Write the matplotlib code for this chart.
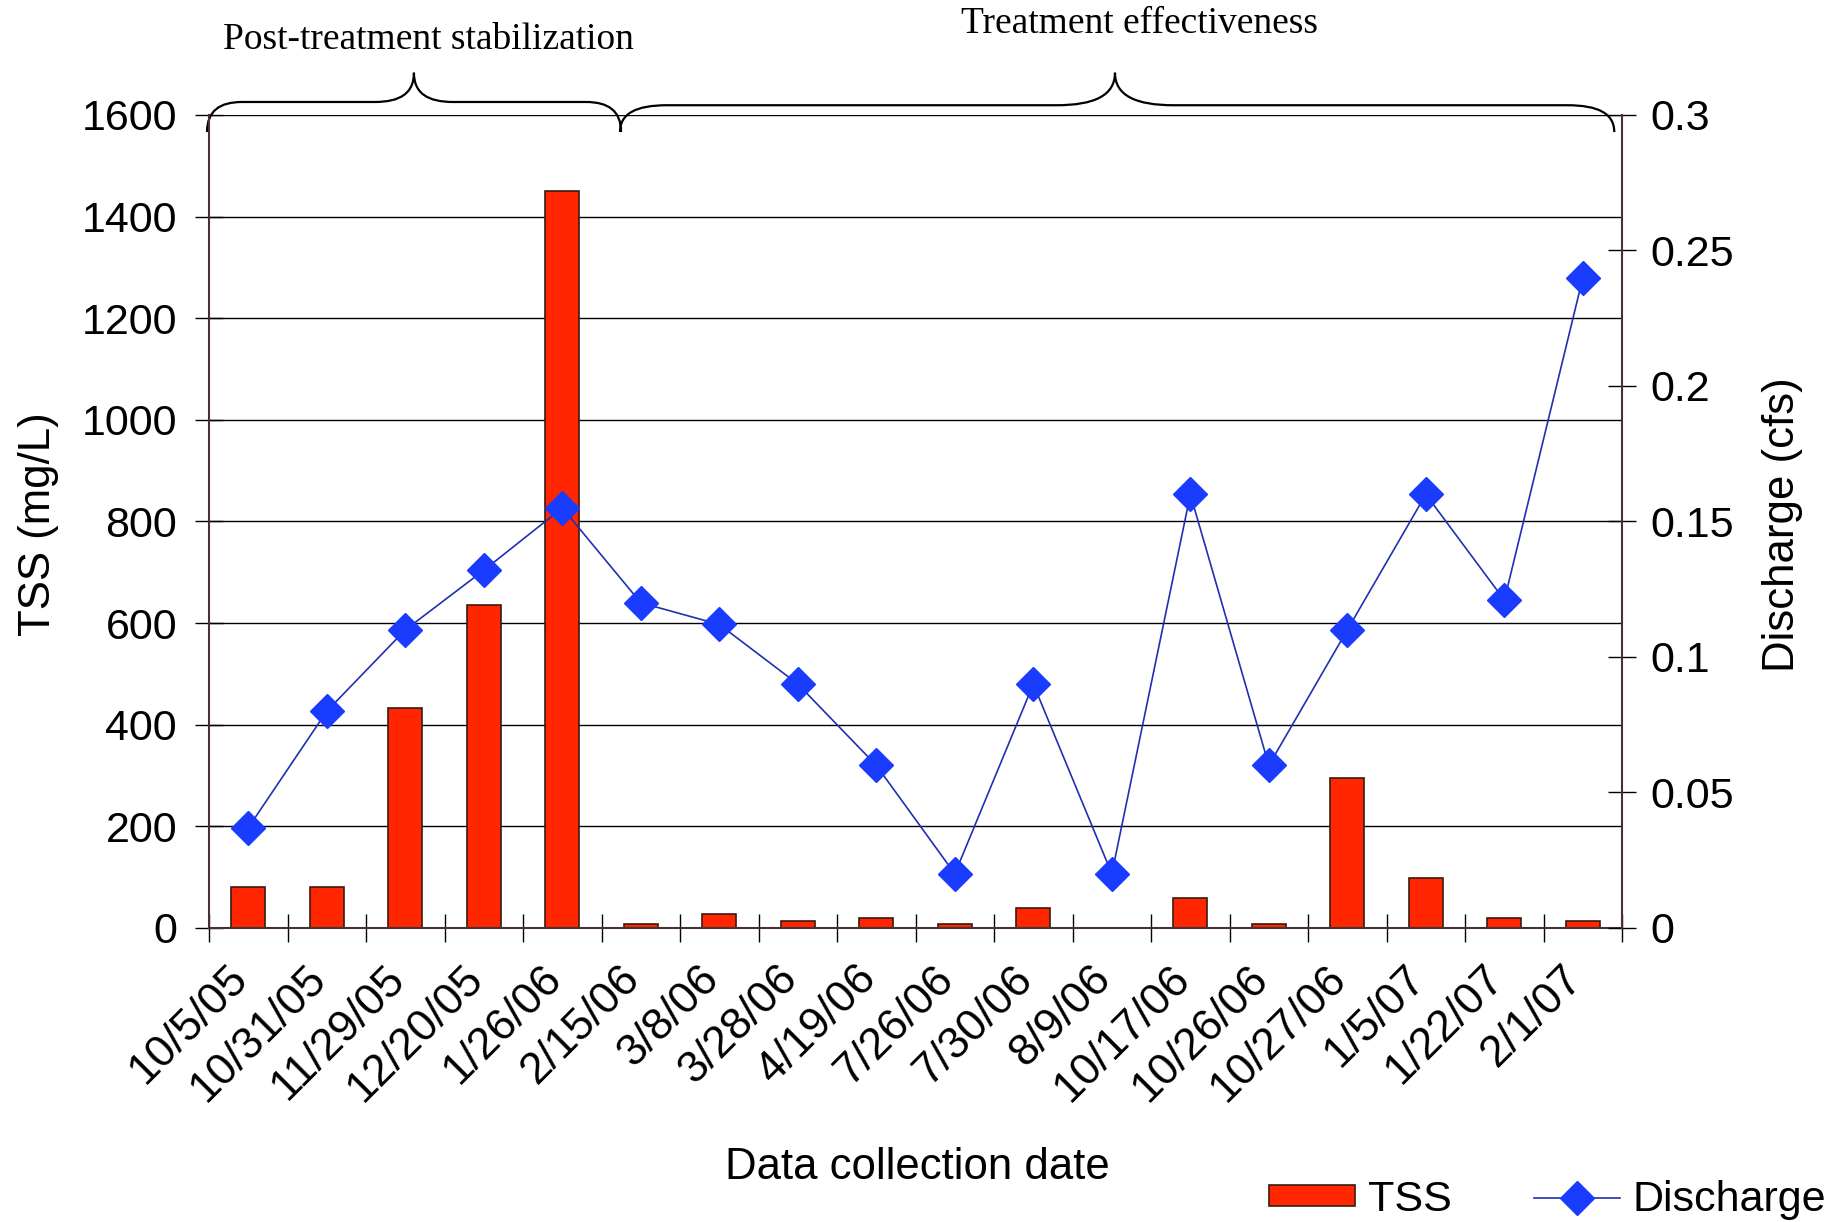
import matplotlib
matplotlib.use("Agg")
from matplotlib import pyplot as plt
from matplotlib.path import Path
from matplotlib.patches import PathPatch, Patch
from matplotlib.lines import Line2D
from matplotlib.transforms import ScaledTranslation
import numpy as np

plt.rcParams["font.family"] = ["Liberation Sans", "DejaVu Sans"]

# 采样日期
dates = ["10/5/05", "10/31/05", "11/29/05", "12/20/05", "1/26/06", "2/15/06",
         "3/8/06", "3/28/06", "4/19/06", "7/26/06", "7/30/06", "8/9/06",
         "10/17/06", "10/26/06", "10/27/06", "1/5/07", "1/22/07", "2/1/07"]

# 悬浮固体 TSS (mg/L)
tss = [80, 80, 432, 636, 1450, 7, 27, 13, 20, 7, 40, 0,
       59, 7, 295, 98, 20, 13]

# 流量 (cfs)
discharge = [0.037, 0.080, 0.110, 0.132, 0.155, 0.120, 0.112, 0.090, 0.060,
             0.020, 0.090, 0.020, 0.160, 0.060, 0.110, 0.160, 0.121, 0.240]

# 时段标注
periods = ["Post-treatment stabilization", "Treatment effectiveness"]

fig = plt.figure(figsize=(18.45, 12.22), dpi=100)
ax = fig.add_axes([0.1133, 0.2406, 0.7659, 0.6653])

x = np.arange(len(dates))
ax.bar(x, tss, width=0.43, color="#ff2600", edgecolor="#3a1a10", linewidth=1.2, zorder=2)
ax.set_xlim(-0.5, len(dates) - 0.5)
ax.set_ylim(0, 1600)
ax.set_yticks(range(0, 1601, 200))
ax.yaxis.grid(True, color="black", linewidth=1.0)
ax.set_axisbelow(True)

# 主刻度在类别之间，标签放在次刻度上
ax.set_xticks(np.arange(-0.5, len(dates), 1.0))
ax.set_xticklabels([])
ax.set_xticks(x, minor=True)
ax.set_xticklabels(dates, minor=True, rotation=45, ha="right", va="center",
                   rotation_mode="anchor", fontsize=32)
ax.tick_params(axis="x", which="minor", length=0, pad=32)
ax.tick_params(axis="x", which="major", direction="inout", length=20, width=1)
ax.tick_params(axis="y", direction="inout", length=20, width=1, labelsize=31, pad=13)
for lab in ax.get_xticklabels(minor=True):
    lab.set_transform(lab.get_transform() + ScaledTranslation(-0.07, 0, fig.dpi_scale_trans))

for s in ["left", "bottom"]:
    ax.spines[s].set_color("#4a3030")
    ax.spines[s].set_linewidth(1.5)
ax.spines["top"].set_visible(False)
ax.spines["right"].set_visible(False)

ax2 = ax.twinx()
ax2.plot(x, discharge, color="#2030b0", linewidth=1.2, marker="D", markersize=17,
         markerfacecolor="#1a3cff", markeredgecolor="#1a3cff", zorder=3)
ax2.set_ylim(0, 0.3)
ax2.set_yticks([0, 0.05, 0.1, 0.15, 0.2, 0.25, 0.3])
ax2.set_yticklabels(["0", "0.05", "0.1", "0.15", "0.2", "0.25", "0.3"])
ax2.tick_params(axis="y", direction="inout", length=20, width=1, labelsize=31, pad=10)
ax2.spines["right"].set_color("#4a3030")
ax2.spines["right"].set_linewidth(1.5)
for s in ["top", "left", "bottom"]:
    ax2.spines[s].set_visible(False)

fig.text(0.0206, 0.571, "TSS (mg/L)", rotation=90, fontsize=31.5, ha="center", va="center")
fig.text(0.966, 0.571, "Discharge (cfs)", rotation=90, fontsize=31.5, ha="center", va="center")
fig.text(0.497, 0.0442, "Data collection date", fontsize=31.5, ha="center", va="center")


# 花括号
def brace(x0, x1, xp, y_tip, y_mid, y_peak, r, rp):
    verts = [(x0, y_tip),
             (x0, y_tip + 0.7 * (y_mid - y_tip)), (x0 + 0.35 * r, y_mid), (x0 + r, y_mid),
             (xp - rp, y_mid),
             (xp - 0.35 * rp, y_mid), (xp, y_mid + 0.3 * (y_peak - y_mid)), (xp, y_peak),
             (xp, y_mid + 0.3 * (y_peak - y_mid)), (xp + 0.35 * rp, y_mid), (xp + rp, y_mid),
             (x1 - r, y_mid),
             (x1 - 0.35 * r, y_mid), (x1, y_tip + 0.7 * (y_mid - y_tip)), (x1, y_tip)]
    codes = [Path.MOVETO,
             Path.CURVE4, Path.CURVE4, Path.CURVE4,
             Path.LINETO,
             Path.CURVE4, Path.CURVE4, Path.CURVE4,
             Path.CURVE4, Path.CURVE4, Path.CURVE4,
             Path.LINETO,
             Path.CURVE4, Path.CURVE4, Path.CURVE4]
    p = PathPatch(Path(verts, codes), transform=ax.get_xaxis_transform(),
                  fill=False, edgecolor="black", linewidth=1.6, clip_on=False)
    ax.add_patch(p)


brace(-0.525, 4.748, 2.11, 0.979, 1.016, 1.052, 0.45, 0.5)
brace(4.735, 17.40, 11.04, 0.979, 1.012, 1.052, 0.6, 0.75)

ax.text(2.29, 1.092, periods[0], transform=ax.get_xaxis_transform(),
        family="Liberation Serif", fontsize=27, ha="center", va="center")
ax.text(11.35, 1.1125, periods[1], transform=ax.get_xaxis_transform(),
        family="Liberation Serif", fontsize=27, ha="center", va="center")

handles = [Patch(facecolor="#ff2600", edgecolor="#3a1a10", linewidth=1.2),
           Line2D([], [], color="#2030b0", linewidth=1.2, marker="D", markersize=17,
                  markerfacecolor="#1a3cff", markeredgecolor="#1a3cff")]
fig.legend(handles, ["TSS", "Discharge"], loc="center right", bbox_to_anchor=(0.99, 0.018),
           ncol=2, frameon=False, fontsize=31, handlelength=2.0, handleheight=0.4,
           handletextpad=0.3, columnspacing=1.9, borderpad=0, borderaxespad=0)

plt.savefig("out.png", dpi=100)
